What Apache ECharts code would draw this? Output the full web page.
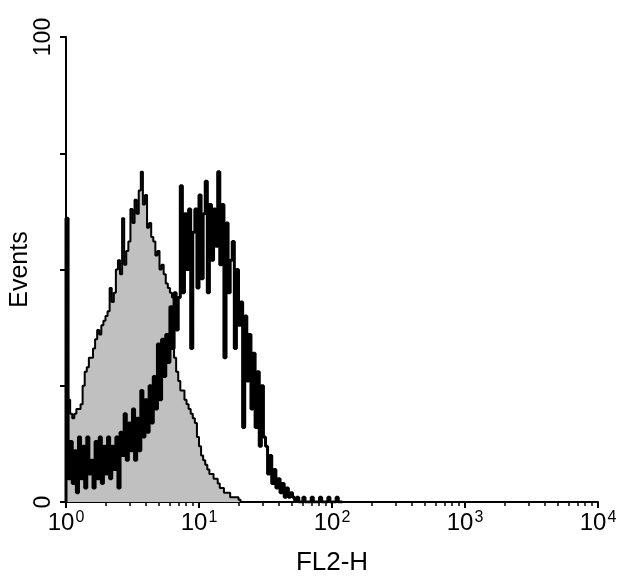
<!DOCTYPE html>
<html>
<head>
<meta charset="utf-8">
<script src="https://cdn.jsdelivr.net/npm/echarts@6/dist/echarts.min.js"></script>
<style>
html,body{margin:0;padding:0;background:#fff;}
#chart{width:640px;height:583px;}
</style>
</head>
<body>
<div id="chart"></div>
<script>
// Histogram bins: 64 channels per decade, FL2-H from 10^0 to 10^4
const binWidth = 1 / 64;
const decadeExponents = ['0', '1', '2', '3', '4'];
const yLabeledTicks = [0, 100];

// Control (grey filled histogram), counts per bin starting at 10^0
const control = [
  23, 22, 19, 18, 19, 20, 20, 21, 25, 28,
  29, 31, 31, 33, 35, 37, 36, 38, 39, 40,
  41, 46, 43, 45, 50, 52, 49, 61, 51, 54,
  56, 63, 60, 65, 62, 67, 71, 64, 66, 59,
  60, 57, 56, 53, 54, 50, 51, 49, 47, 46,
  45, 44, 31, 28, 26, 24, 24, 22, 21, 20,
  19, 18, 17, 14, 12, 10, 9, 8, 7, 6,
  6, 5, 5, 4, 3, 3, 2, 2, 2, 1,
  1, 1, 1, 0.5
];

// Sample (thick black histogram), counts per bin starting at 10^0
const sample = [
  61, 5, 13, 4, 11, 2, 14, 5, 12, 3,
  14, 6, 9, 3, 13, 5, 14, 4, 12, 6,
  14, 5, 12, 7, 14, 3, 15, 10, 19, 9,
  17, 11, 20, 9, 18, 11, 24, 14, 22, 15,
  25, 17, 27, 20, 34, 22, 35, 27, 36, 30,
  42, 33, 45, 37, 44, 68, 45, 62, 50, 63,
  33, 58, 63, 46, 66, 48, 62, 69, 45, 64,
  52, 63, 55, 71, 51, 64, 31, 60, 45, 52,
  56, 33, 50, 38, 43, 16, 40, 26, 36, 20,
  32, 16, 28, 12, 25, 14, 12, 6, 10, 4,
  7, 3, 5, 2, 4, 1, 3, 1, 2, 1,
  0.3, 1, 0, 0, 1, 0, 0, 0, 1, 0,
  0, 0, 1, 0, 0, 0, 1, 0, 0, 0,
  1, 0, 0
];

function toSteps(arr) {
  const pts = [[0, 0]];
  arr.forEach((v, i) => pts.push([i * binWidth, v]));
  pts.push([arr.length * binWidth, 0]);
  return pts;
}

// log-decade minor tick positions (2..9 within each decade)
const minorTicks = [];
for (let d = 0; d < 4; d++) {
  for (let k = 2; k <= 9; k++) minorTicks.push(d + Math.log10(k));
}

const FONT = 'Liberation Sans';
const chart = echarts.init(document.getElementById('chart'), null, {renderer: 'canvas'});
chart.setOption({
  animation: false,
  backgroundColor: '#ffffff',
  grid: {left: 66, right: 42, top: 37, bottom: 81, containLabel: false, outerBoundsMode: 'none'},
  xAxis: [
    {
      type: 'value', min: 0, max: 4, interval: 1,
      name: 'FL2-H', nameLocation: 'middle', nameGap: 48, nameMoveOverlap: false,
      nameTextStyle: {fontFamily: FONT, fontSize: 26, color: '#000'},
      axisLine: {show: true, onZero: false, lineStyle: {color: '#000', width: 2}},
      axisTick: {show: true, length: 6, lineStyle: {color: '#000', width: 2}},
      splitLine: {show: false},
      axisLabel: {
        margin: 8, color: '#000',
        formatter: v => '{b|10}{s|' + decadeExponents[Math.round(v)] + '}',
        rich: {
          b: {fontFamily: FONT, fontSize: 24, color: '#000', lineHeight: 26},
          s: {fontFamily: FONT, fontSize: 16, color: '#000', verticalAlign: 'top', lineHeight: 26, padding: [0, 0, 0, 1]}
        }
      }
    },
    {
      type: 'value', min: 0, max: 4, position: 'bottom',
      axisLine: {show: false},
      axisLabel: {show: false, customValues: minorTicks},
      axisTick: {show: true, length: 4, customValues: minorTicks, lineStyle: {color: '#000', width: 1.5}},
      splitLine: {show: false}
    }
  ],
  yAxis: {
    type: 'value', min: 0, max: 100, interval: 25,
    name: 'Events', nameLocation: 'middle', nameGap: 46, nameRotate: 90, nameMoveOverlap: false,
    nameTextStyle: {fontFamily: FONT, fontSize: 25, color: '#000', verticalAlign: 'middle'},
    axisLine: {show: true, lineStyle: {color: '#000', width: 2}},
    axisTick: {show: true, length: 6, lineStyle: {color: '#000', width: 2}},
    splitLine: {show: false},
    axisLabel: {
      rotate: 90, margin: 22, color: '#000', fontFamily: FONT, fontSize: 23,
      verticalAlign: 'middle', align: 'center',
      formatter: v => (yLabeledTicks.indexOf(v) >= 0 ? String(v) : '')
    }
  },
  series: [
    {
      name: 'Control', type: 'line', step: 'end', xAxisIndex: 0,
      data: toSteps(control), showSymbol: false, symbol: 'none',
      lineStyle: {color: '#000', width: 2},
      areaStyle: {color: '#c0c0c0', opacity: 1},
      z: 2
    },
    {
      name: 'Sample', type: 'line', step: 'end', xAxisIndex: 0,
      data: toSteps(sample), showSymbol: false, symbol: 'none',
      lineStyle: {color: '#000', width: 3},
      z: 3
    }
  ]
});
</script>
</body>
</html>
